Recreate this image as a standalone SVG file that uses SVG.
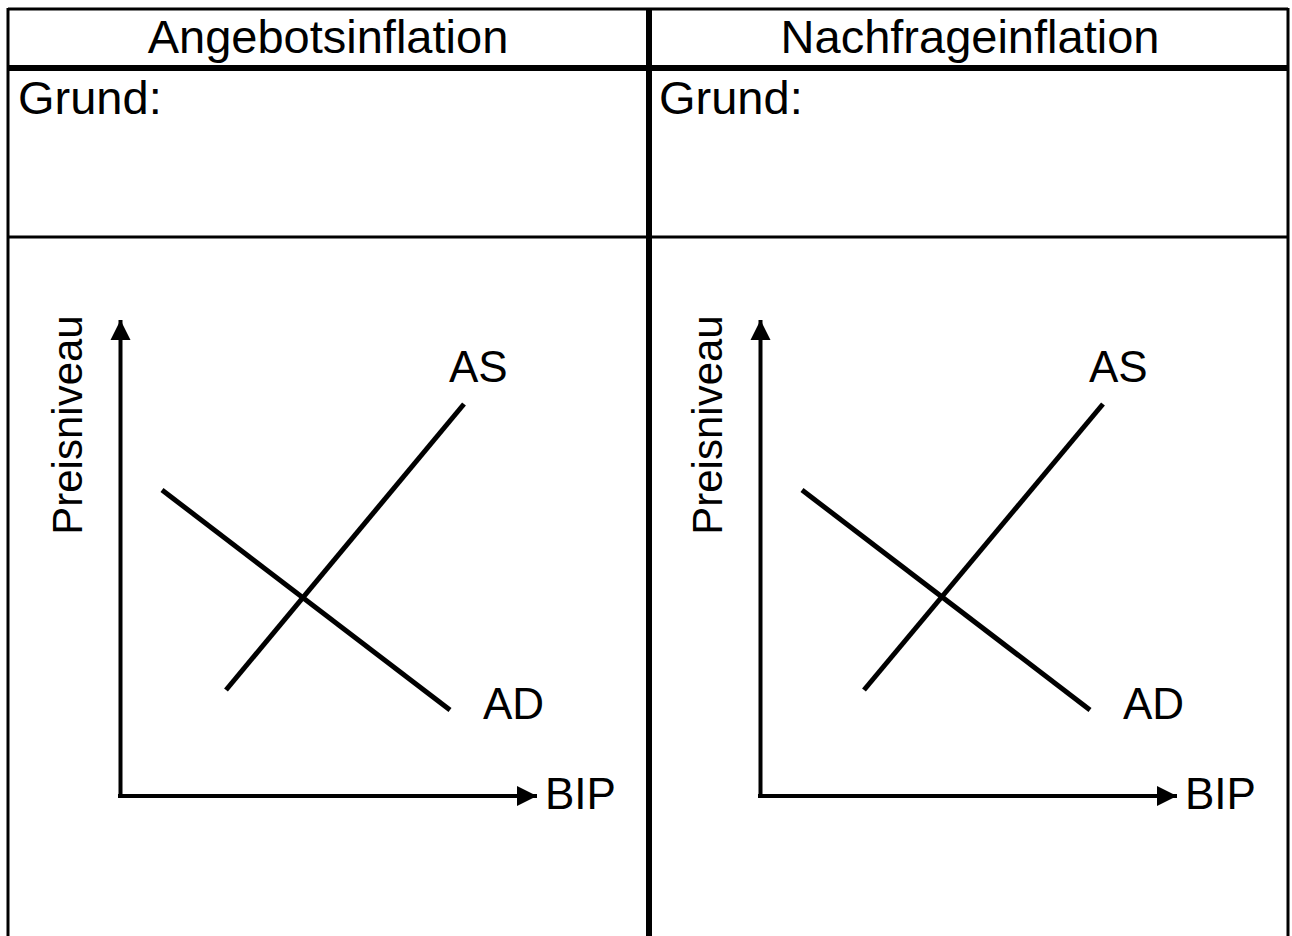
<svg xmlns="http://www.w3.org/2000/svg" width="1292" height="936" viewBox="0 0 1292 936">
<style>
text{font-family:"Liberation Sans",Arial,sans-serif;fill:#000}
.h{font-size:47px}
.l{font-size:44px}
.frame{stroke:#000;fill:none}
.curve{stroke:#000;stroke-width:5;fill:none}
.axis{stroke:#000;stroke-width:4;fill:none}
</style>
<defs>
<marker id="arr" markerUnits="userSpaceOnUse" markerWidth="22" markerHeight="22" refX="20" refY="10" orient="auto" viewBox="0 0 22 20">
<path d="M0,0 L20,10 L0,20 Z" fill="#000"/>
</marker>
</defs>
<rect width="1292" height="936" fill="#fff"/>
<g id="table">
<line class="frame" x1="8" y1="9" x2="1288" y2="9" stroke-width="3"/>
<line class="frame" x1="8" y1="8" x2="8" y2="936" stroke-width="3"/>
<line class="frame" x1="1288" y1="8" x2="1288" y2="936" stroke-width="3"/>
<line class="frame" x1="8" y1="68" x2="1288" y2="68" stroke-width="6"/>
<line class="frame" x1="8" y1="237" x2="1288" y2="237" stroke-width="3"/>
<line class="frame" x1="649" y1="8" x2="649" y2="936" stroke-width="6"/>
</g>
<g id="header-left"><text class="h" x="328" y="53" text-anchor="middle">Angebotsinflation</text></g>
<g id="header-right"><text class="h" x="970" y="53" text-anchor="middle">Nachfrageinflation</text></g>
<g id="grund-left"><text class="h" x="18" y="114">Grund:</text></g>
<g id="grund-right"><text class="h" x="659" y="114">Grund:</text></g>
<g id="connectors">
<line class="axis" x1="120.5" y1="797" x2="120.5" y2="320" marker-end="url(#arr)"/>
<line class="axis" x1="118" y1="796" x2="537" y2="796" marker-end="url(#arr)"/>
<line class="axis" x1="760.5" y1="797" x2="760.5" y2="320" marker-end="url(#arr)"/>
<line class="axis" x1="758" y1="796" x2="1177" y2="796" marker-end="url(#arr)"/>
</g>
<g id="chart-left">
<line class="curve" x1="162" y1="490" x2="450" y2="710"/>
<line class="curve" x1="226" y1="690" x2="464" y2="404"/>
<text class="l" x="449" y="382">AS</text>
<text class="l" x="483" y="719">AD</text>
<text class="l" x="545" y="809">BIP</text>
<text class="l" transform="translate(82,425) rotate(-90)" text-anchor="middle" style="font-size:42px">Preisniveau</text>
</g>
<g id="chart-right">
<line class="curve" x1="802" y1="490" x2="1090" y2="710"/>
<line class="curve" x1="864" y1="690" x2="1103" y2="404"/>
<text class="l" x="1089" y="382">AS</text>
<text class="l" x="1123" y="719">AD</text>
<text class="l" x="1185" y="809">BIP</text>
<text class="l" transform="translate(722,425) rotate(-90)" text-anchor="middle" style="font-size:42px">Preisniveau</text>
</g>
</svg>
